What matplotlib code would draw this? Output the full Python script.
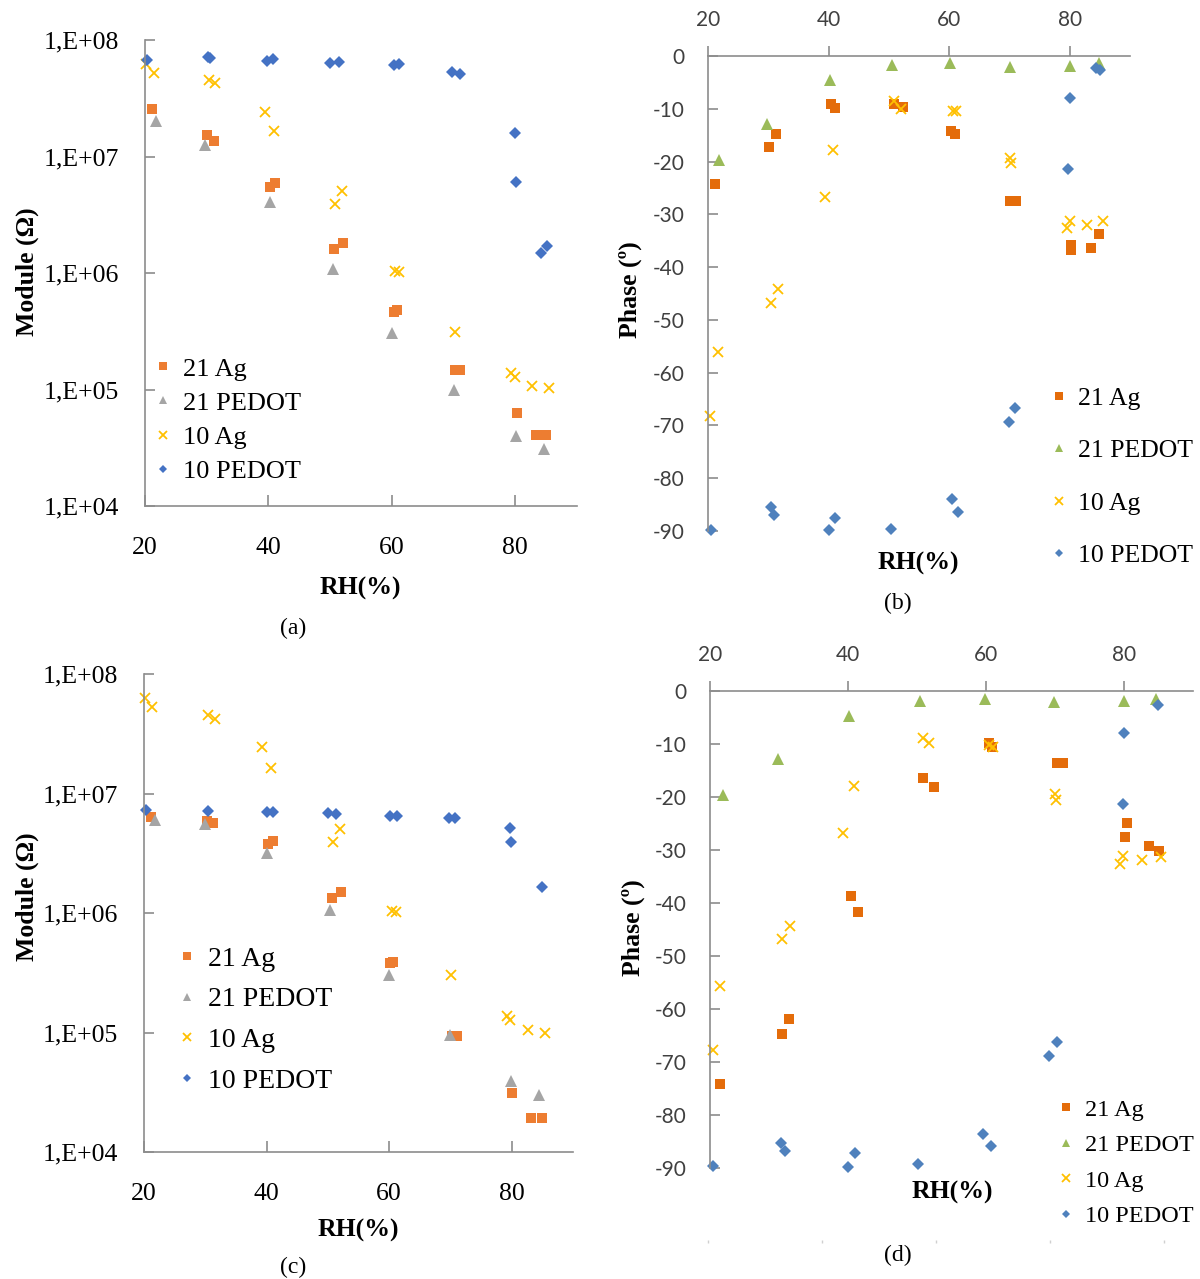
import numpy as np
import matplotlib.pyplot as plt
from matplotlib.ticker import FixedLocator, FuncFormatter, NullLocator

plt.rcParams['font.family'] = ['Liberation Serif', 'DejaVu Serif']
plt.rcParams['axes.unicode_minus'] = False

SANS = 'Lato'
AXC = '#8c8c8c'
W, H = 1200, 1279

# ---- data (a): module, first sample set ----
a_21ag_x = [21.1, 30.1, 31.2, 40.3, 41.1, 50.6, 52.1, 60.3, 60.9, 70.2, 71.0, 80.2, 83.4, 84.9]
a_21ag_y = [2.56e7, 1.53e7, 1.36e7, 5.5e6, 5.9e6, 1.6e6, 1.8e6, 4.6e5, 4.8e5, 1.47e5, 1.47e5, 6.3e4, 4.1e4, 4.1e4]
a_21pe_x = [21.8, 29.8, 40.2, 50.4, 60.0, 70.0, 80.1, 84.6]
a_21pe_y = [2.0e7, 1.26e7, 4.1e6, 1.08e6, 3.05e5, 1.0e5, 4.0e4, 3.1e4]
a_10ag_x = [20.2, 21.4, 30.4, 31.4, 39.4, 40.9, 50.8, 51.9, 60.5, 61.2, 70.2, 79.3, 79.9, 82.7, 85.5]
a_10ag_y = [6.2e7, 5.2e7, 4.5e7, 4.3e7, 2.4e7, 1.66e7, 3.9e6, 5.1e6, 1.04e6, 1.02e6, 3.1e5, 1.39e5, 1.28e5, 1.07e5, 1.03e5]
a_10pe_x = [20.4, 30.2, 30.6, 39.8, 40.7, 50.0, 51.5, 60.3, 61.2, 69.8, 71.1, 79.9, 80.1, 84.2, 85.1]
a_10pe_y = [6.7e7, 7.2e7, 7.0e7, 6.6e7, 6.9e7, 6.4e7, 6.5e7, 6.1e7, 6.2e7, 5.3e7, 5.1e7, 1.6e7, 6.0e6, 1.48e6, 1.7e6]

# ---- data (b): phase, first sample set ----
b_21ag_x = [21.1, 30.2, 31.3, 40.4, 41.1, 50.8, 52.3, 60.3, 60.9, 70.1, 71.1, 80.2, 80.2, 83.6, 84.9]
b_21ag_y = [-24.3, -17.2, -14.8, -9.0, -9.9, -9.0, -9.6, -14.2, -14.8, -27.5, -27.5, -35.9, -36.7, -36.3, -33.8]
b_21pe_x = [21.9, 29.8, 40.2, 50.6, 60.1, 70.1, 80.1, 84.8]
b_21pe_y = [-19.7, -12.9, -4.5, -1.7, -1.4, -2.0, -1.8, -1.3]
b_10ag_x = [20.3, 21.6, 30.4, 31.6, 39.4, 40.7, 50.8, 52.0, 60.6, 61.2, 70.1, 70.2, 79.5, 80.1, 82.9, 85.5]
b_10ag_y = [-68.3, -56.0, -46.8, -44.2, -26.8, -17.9, -8.5, -10.1, -10.5, -10.4, -19.3, -20.3, -32.5, -31.2, -32.1, -31.2]
b_10pe_x = [20.5, 30.4, 30.9, 40.0, 41.1, 50.3, 60.4, 61.4, 70.0, 71.0, 79.7, 80.1, 84.4, 85.1]
b_10pe_y = [-89.9, -85.4, -87.0, -89.9, -87.6, -89.6, -84.0, -86.4, -69.3, -66.6, -21.5, -8.0, -2.3, -2.7]

# ---- data (c): module, second sample set ----
c_21ag_x = [21.1, 30.3, 31.2, 40.3, 41.0, 50.6, 52.1, 60.2, 60.7, 70.3, 71.0, 80.0, 83.2, 84.9]
c_21ag_y = [6.4e6, 5.9e6, 5.7e6, 3.8e6, 4.0e6, 1.33e6, 1.5e6, 3.8e5, 3.9e5, 9.4e4, 9.4e4, 3.1e4, 1.94e4, 1.94e4]
c_21pe_x = [21.8, 29.9, 40.1, 50.3, 60.0, 69.9, 79.9, 84.5]
c_21pe_y = [6.0e6, 5.6e6, 3.2e6, 1.05e6, 3.0e5, 9.5e4, 3.9e4, 3.0e4]
c_10ag_x = [20.2, 21.3, 30.5, 31.6, 39.2, 40.7, 50.8, 51.9, 60.5, 61.1, 70.1, 79.3, 79.7, 82.7, 85.5]
c_10ag_y = [6.3e7, 5.3e7, 4.5e7, 4.2e7, 2.45e7, 1.63e7, 3.9e6, 5.0e6, 1.04e6, 1.02e6, 3.0e5, 1.38e5, 1.27e5, 1.05e5, 1.0e5]
c_10pe_x = [20.3, 30.5, 40.0, 41.0, 50.0, 51.4, 60.2, 61.3, 69.7, 70.8, 79.7, 79.9, 84.9]
c_10pe_y = [7.3e6, 7.2e6, 7.0e6, 7.0e6, 6.9e6, 6.8e6, 6.5e6, 6.5e6, 6.2e6, 6.2e6, 5.1e6, 3.9e6, 1.64e6]

# ---- data (d): phase, second sample set ----
d_21ag_x = [21.5, 30.5, 31.5, 40.5, 41.4, 50.8, 52.4, 60.4, 60.8, 70.3, 71.1, 80.2, 80.4, 83.6, 85.0]
d_21ag_y = [-74.2, -64.8, -61.8, -38.7, -41.7, -16.5, -18.1, -9.9, -10.6, -13.6, -13.6, -27.5, -24.9, -29.3, -30.1]
d_21pe_x = [21.9, 29.9, 40.2, 50.5, 59.9, 69.9, 80.0, 84.6]
d_21pe_y = [-19.7, -12.8, -4.8, -1.9, -1.6, -2.1, -1.9, -1.6]
d_10ag_x = [20.4, 21.5, 30.5, 31.6, 39.3, 40.8, 50.8, 51.8, 60.5, 61.0, 70.0, 70.1, 79.4, 79.8, 82.6, 85.3]
d_10ag_y = [-67.8, -55.7, -46.8, -44.3, -26.8, -17.9, -8.9, -9.9, -10.2, -10.6, -19.4, -20.5, -32.6, -31.2, -31.9, -31.3]
d_10pe_x = [20.5, 30.3, 30.9, 40.0, 41.0, 50.2, 59.6, 60.7, 69.1, 70.3, 79.8, 80.0, 84.9]
d_10pe_y = [-89.7, -85.2, -86.8, -89.9, -87.2, -89.3, -83.5, -85.9, -68.9, -66.3, -21.4, -7.9, -2.7]

labels = ['21 Ag', '21 PEDOT', '10 Ag', '10 PEDOT']
mod_colors = ['#ED7D31', '#A5A5A5', '#FFC000', '#4472C4']
ph_colors = ['#E46C0A', '#9BBB59', '#FFC000', '#4F81BD']
markers = [('s', 7), ('^', 8), ('x', 7.5), ('D', 6)]


def box(x0, y0, x1, y1):
    return [x0 / W, 1 - y1 / H, (x1 - x0) / W, (y1 - y0) / H]


def draw(ax, series, colors):
    for (x, y), lab, col, (m, ms) in zip(series, labels, colors, markers):
        kw = dict(mew=1.3) if m == 'x' else dict(mew=0)
        ax.plot(x, y, ls='none', marker=m, ms=ms, color=col, label=lab,
                clip_on=False, **kw)


def module_axes(ax, series):
    draw(ax, series, mod_colors)
    ax.set_yscale('log')
    ax.set_ylim(1e4, 1e8)
    ax.set_xlim(20, 90)
    ax.yaxis.set_major_locator(FixedLocator([1e4, 1e5, 1e6, 1e7, 1e8]))
    ax.yaxis.set_major_formatter(FuncFormatter(lambda v, _: '1,E+%02d' % round(np.log10(v))))
    ax.yaxis.set_minor_locator(NullLocator())
    ax.set_xticks([20, 40, 60, 80])
    for s in ['top', 'right']:
        ax.spines[s].set_visible(False)
    for s in ['left', 'bottom']:
        ax.spines[s].set_color(AXC)
        ax.spines[s].set_linewidth(1.2)
    ax.tick_params(axis='y', direction='in', length=7, width=1.2, color=AXC, pad=19, labelsize=18.5)
    ax.tick_params(axis='x', direction='in', length=8, width=1.2, color=AXC, pad=22, labelsize=18.5)


def phase_axes(ax, series, xmax):
    draw(ax, series, ph_colors)
    ax.set_xlim(20, xmax)
    ax.set_ylim(-90, 0)
    ax.xaxis.tick_top()
    ax.set_xticks([20, 40, 60, 80])
    ax.set_yticks(np.arange(-90, 1, 10))
    for s in ['bottom', 'right']:
        ax.spines[s].set_visible(False)
    for s in ['left', 'top']:
        ax.spines[s].set_color(AXC)
        ax.spines[s].set_linewidth(1.2)
    ax.tick_params(axis='x', direction='out', length=7, width=1.2, color=AXC, pad=12, labelsize=15)
    ax.tick_params(axis='y', direction='in', length=7, width=1.2, color=AXC, pad=17, labelsize=15)
    for t in ax.get_xticklabels() + ax.get_yticklabels():
        t.set_fontfamily(SANS)
        t.set_color('#404040')


fig = plt.figure(figsize=(12, 12.79), dpi=100)

ax_a = fig.add_axes(box(145, 40, 577, 506))
module_axes(ax_a, [(a_21ag_x, a_21ag_y), (a_21pe_x, a_21pe_y), (a_10ag_x, a_10ag_y), (a_10pe_x, a_10pe_y)])

ax_b = fig.add_axes(box(708, 56, 1130, 531))
phase_axes(ax_b, [(b_21ag_x, b_21ag_y), (b_21pe_x, b_21pe_y), (b_10ag_x, b_10ag_y), (b_10pe_x, b_10pe_y)], 90)

ax_c = fig.add_axes(box(144, 674, 573, 1152))
module_axes(ax_c, [(c_21ag_x, c_21ag_y), (c_21pe_x, c_21pe_y), (c_10ag_x, c_10ag_y), (c_10pe_x, c_10pe_y)])

ax_d = fig.add_axes(box(710, 691, 1193, 1168))
phase_axes(ax_d, [(d_21ag_x, d_21ag_y), (d_21pe_x, d_21pe_y), (d_10ag_x, d_10ag_y), (d_10pe_x, d_10pe_y)], 90)

# faint tick marks under panel (d)
ax_e = fig.add_axes(box(708, 1239, 1164, 1240))
ax_e.set_xlim(0, 4)
ax_e.set_xticks(range(5))
ax_e.set_xticklabels([])
ax_e.set_yticks([])
for s in ax_e.spines.values():
    s.set_visible(False)
ax_e.tick_params(axis='x', length=2, width=1, color='#d0d0d0')
ax_e.patch.set_visible(False)

# legends
def legend(ax, x, y, size, spacing):
    ax.legend(loc='center left', bbox_to_anchor=(x / W, 1 - y / H), bbox_transform=fig.transFigure,
              frameon=False, fontsize=size, borderpad=0, borderaxespad=0, handlelength=0.6,
              handletextpad=0.45, labelspacing=spacing, markerscale=0.75)

legend(ax_a, 155, 420, 19, 0.4)
legend(ax_b, 1051, 477, 18.5, 1.15)
legend(ax_c, 179, 1020, 20, 0.55)
legend(ax_d, 1059, 1163, 17.5, 0.55)

# axis titles and panel letters
def label(x, y, s, size=18.5, rot=0, bold=True):
    fig.text(x / W, 1 - y / H, s, ha='center', va='center', fontsize=size, rotation=rot,
             fontweight='bold' if bold else 'normal')

label(27, 272, 'Module (Ω)', rot=90)
label(27, 897, 'Module (Ω)', rot=90)
label(630, 290, 'Phase (º)', rot=90)
label(633, 928, 'Phase (º)', rot=90)
label(360, 588, 'RH(%)')
label(358, 1230, 'RH(%)')
label(918, 563, 'RH(%)')
label(952, 1192, 'RH(%)')
label(293, 628, '(a)', 17, bold=False)
label(898, 603, '(b)', 17, bold=False)
label(293, 1267, '(c)', 17, bold=False)
label(898, 1255, '(d)', 17, bold=False)

fig.savefig('out.png', dpi=100, facecolor='white')
